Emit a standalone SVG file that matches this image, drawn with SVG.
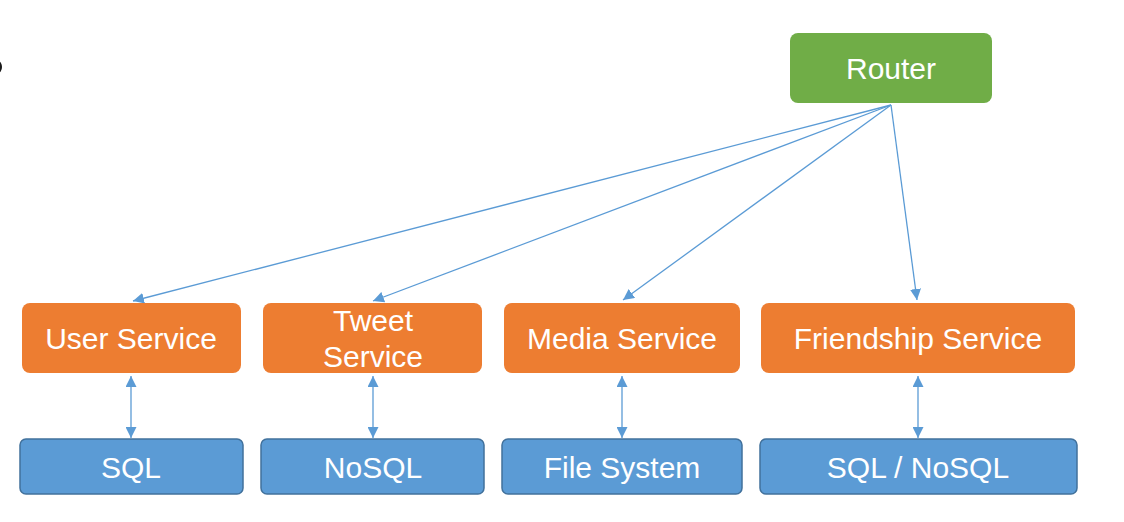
<svg xmlns="http://www.w3.org/2000/svg" width="1124" height="522" viewBox="0 0 1124 522">
<style>
.svc{fill:#ED7D31;}
.db{fill:#5B9BD5;stroke:#41719C;stroke-width:1.5;}
.rt{fill:#70AD47;}
text{font-family:"Liberation Sans",Arial,sans-serif;font-size:30px;fill:#fff;text-anchor:middle;}
.c{stroke:#5B9BD5;stroke-width:1.3;fill:none;}
</style>
<defs>
<marker id="ah" viewBox="0 0 10 10" refX="10" refY="5" markerWidth="11" markerHeight="11" markerUnits="userSpaceOnUse" orient="auto-start-reverse">
<path d="M0,0 L10,5 L0,10 z" fill="#5B9BD5"/>
</marker>
</defs>
<rect width="1124" height="522" fill="#fff"/>
<ellipse cx="-2" cy="67" rx="4" ry="6" fill="#1a1a1a"/>
<g id="connectors">
<line class="c" x1="891" y1="105" x2="133" y2="301" marker-end="url(#ah)"/>
<line class="c" x1="891" y1="105" x2="373" y2="301" marker-end="url(#ah)"/>
<line class="c" x1="891" y1="105" x2="623" y2="300" marker-end="url(#ah)"/>
<line class="c" x1="891" y1="105" x2="917" y2="300" marker-end="url(#ah)"/>
<line class="c" x1="131" y1="376" x2="131" y2="438" marker-start="url(#ah)" marker-end="url(#ah)"/>
<line class="c" x1="373" y1="376" x2="373" y2="438" marker-start="url(#ah)" marker-end="url(#ah)"/>
<line class="c" x1="622" y1="376" x2="622" y2="438" marker-start="url(#ah)" marker-end="url(#ah)"/>
<line class="c" x1="918" y1="376" x2="918" y2="438" marker-start="url(#ah)" marker-end="url(#ah)"/>
</g>
<g id="router"><rect class="rt" x="790" y="33" width="202" height="70" rx="8"/><text x="891" y="79">Router</text></g>
<g id="user-service"><rect class="svc" x="22" y="303" width="219" height="70" rx="8"/><text x="131" y="349">User Service</text></g>
<g id="tweet-service"><rect class="svc" x="263" y="303" width="219" height="70" rx="8"/><text x="373" y="331">Tweet</text><text x="373" y="367">Service</text></g>
<g id="media-service"><rect class="svc" x="504" y="303" width="236" height="70" rx="8"/><text x="622" y="349">Media Service</text></g>
<g id="friendship-service"><rect class="svc" x="761" y="303" width="314" height="70" rx="8"/><text x="918" y="349">Friendship Service</text></g>
<g id="sql"><rect class="db" x="20" y="439" width="223" height="55" rx="6"/><text x="131" y="478">SQL</text></g>
<g id="nosql"><rect class="db" x="261" y="439" width="223" height="55" rx="6"/><text x="373" y="478">NoSQL</text></g>
<g id="file-system"><rect class="db" x="502" y="439" width="240" height="55" rx="6"/><text x="622" y="478">File System</text></g>
<g id="sql-nosql"><rect class="db" x="760" y="439" width="317" height="55" rx="6"/><text x="918" y="478">SQL / NoSQL</text></g>
</svg>
